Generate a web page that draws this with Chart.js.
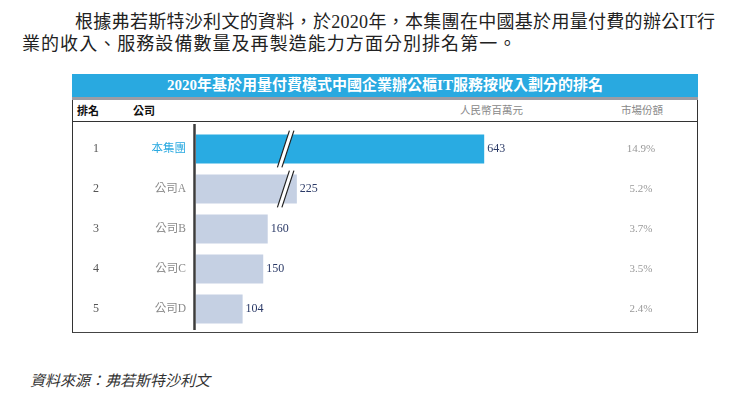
<!DOCTYPE html>
<html><head><meta charset="utf-8">
<script src="https://cdn.jsdelivr.net/npm/chart.js@4.4.1/dist/chart.umd.min.js"></script>
<style>
html,body{margin:0;padding:0;background:#fff;width:752px;height:394px;overflow:hidden;}
body{position:relative;font-family:"Liberation Serif","Noto Sans CJK TC",serif;color:#222;}
.abs{position:absolute;white-space:nowrap;}
#p1{left:75px;top:10px;font-size:18px;line-height:24px;letter-spacing:0.3px;}
#p2{left:22px;top:32px;font-size:18px;line-height:24px;letter-spacing:1.05px;}
#titlebar{left:72px;top:74px;width:626px;height:23px;background:#29a9e0;color:#fff;font-weight:bold;font-size:15px;line-height:23px;text-align:center;}
#stripe{left:72px;top:97px;width:626px;height:3px;background:#9c9ca4;}
#box{left:72px;top:100px;width:624px;height:232px;border-left:1px solid #333;border-right:1px solid #333;border-bottom:1.5px solid #444;}
#hdrline{left:73px;top:121px;width:624px;height:1px;background:#333;}
.hdr{top:103px;font-size:11px;line-height:14px;font-family:"Noto Sans CJK TC",sans-serif;}
#h1{left:77px;font-weight:bold;color:#111;}
#h2{left:133px;font-weight:bold;color:#111;}
#h3{left:460px;width:60px;text-align:center;color:#888;font-size:10.5px;}
#h4{left:612px;width:60px;text-align:center;color:#888;font-size:10.5px;}
#src{left:30px;top:370px;font-size:15px;line-height:20px;font-style:italic;color:#333;font-family:"Noto Sans CJK TC",sans-serif;}
#c{position:absolute;left:0;top:0;}
</style></head>
<body>
<div class="abs" id="p1">根據弗若斯特沙利文的資料，於2020年，本集團在中國基於用量付費的辦公IT行</div>
<div class="abs" id="p2">業的收入、服務設備數量及再製造能力方面分別排名第一。</div>
<div class="abs" id="titlebar">2020年基於用量付費模式中國企業辦公櫃IT服務按收入劃分的排名</div>
<div class="abs" id="stripe"></div>
<div class="abs" id="box"></div>
<div class="abs" id="hdrline"></div>
<div class="abs hdr" id="h1">排名</div>
<div class="abs hdr" id="h2">公司</div>
<div class="abs hdr" id="h3">人民幣百萬元</div>
<div class="abs hdr" id="h4">市場份額</div>
<div class="abs" id="src">資料來源：弗若斯特沙利文</div>
<canvas id="c" width="752" height="394"></canvas>
<script>
const categories = ['本集團', '公司A', '公司B', '公司C', '公司D'];
const ranks = ['1', '2', '3', '4', '5'];
const revenues = [643, 225, 160, 150, 104];
const shares = ['14.9%', '5.2%', '3.7%', '3.5%', '2.4%'];
const brokenBars = [0, 1];
const BREAK_AT = 195;

const tableOverlay = {
  id: 'tableOverlay',
  afterDatasetsDraw(chart) {
    const ctx = chart.ctx;
    const area = chart.chartArea;
    const xs = chart.scales.x, ys = chart.scales.y;
    const meta = chart.getDatasetMeta(0);
    ctx.save();
    ctx.strokeStyle = '#3c3c3c';
    ctx.lineWidth = 2.5;
    ctx.beginPath();
    ctx.moveTo(area.left - 1.5, 124);
    ctx.lineTo(area.left - 1.5, 330);
    ctx.stroke();
    const bx = xs.getPixelForValue(BREAK_AT);
    brokenBars.forEach(i => {
      const el = meta.data[i];
      const top = el.y - el.height / 2 - 4;
      const bot = el.y + el.height / 2 + 4;
      const dx = 6, gap = 4.5;
      ctx.fillStyle = '#fff';
      ctx.beginPath();
      ctx.moveTo(bx - dx, bot);
      ctx.lineTo(bx + dx, top);
      ctx.lineTo(bx + dx + gap, top);
      ctx.lineTo(bx - dx + gap, bot);
      ctx.closePath();
      ctx.fill();
      ctx.strokeStyle = '#222';
      ctx.lineWidth = 1.2;
      ctx.beginPath();
      ctx.moveTo(bx - dx, bot); ctx.lineTo(bx + dx, top);
      ctx.moveTo(bx - dx + gap, bot); ctx.lineTo(bx + dx + gap, top);
      ctx.stroke();
    });
    ctx.textBaseline = 'middle';
    meta.data.forEach((el, i) => {
      const y = ys.getPixelForValue(i);
      ctx.font = '12px "Liberation Serif", serif';
      ctx.fillStyle = '#2b3a67';
      ctx.textAlign = 'left';
      ctx.fillText(String(revenues[i]), el.x + 3, y);
      ctx.fillStyle = '#555';
      ctx.textAlign = 'center';
      ctx.fillText(ranks[i], 96, y);
      ctx.font = '11px "Liberation Serif", serif';
      ctx.fillStyle = '#999';
      ctx.fillText(shares[i], 641, y);
    });
    ctx.restore();
  }
};

new Chart(document.getElementById('c'), {
  type: 'bar',
  data: {
    labels: categories,
    datasets: [{
      data: revenues,
      backgroundColor: ctx => ctx.dataIndex === 0 ? '#29abe2' : '#c5d0e3',
      borderWidth: 0,
      categoryPercentage: 1,
      barPercentage: 0.72
    }]
  },
  options: {
    indexAxis: 'y',
    responsive: false,
    animation: false,
    events: [],
    layout: { padding: { top: 129, bottom: 65, right: 54, left: 0 } },
    plugins: { legend: { display: false }, tooltip: { enabled: false }, title: { display: false } },
    scales: {
      x: { display: false, min: 0, max: 1120 },
      y: {
        afterFit: s => { s.width = 196; },
        grid: { display: false },
        border: { display: false },
        ticks: {
          padding: 2,
          color: c => c.index === 0 ? '#29a9e0' : '#8a8a8a',
          font: { size: 11.5, family: '"Liberation Serif","Noto Sans CJK TC",serif' }
        }
      }
    }
  },
  plugins: [tableOverlay]
});
</script>
</body></html>
